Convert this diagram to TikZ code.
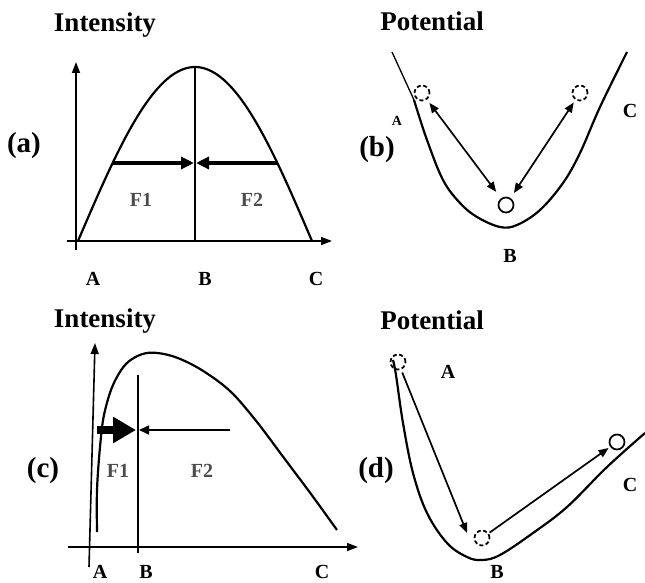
\documentclass[tikz,border=0pt]{standalone}
\usepackage{fontspec}
\setmainfont{Liberation Serif}
\usetikzlibrary{arrows.meta}
\begin{document}
\begin{tikzpicture}[x=1pt,y=-1pt,
  axis/.style={line width=1.6pt,-{Triangle[length=11pt,width=8pt]}},
  curve/.style={line width=2.2pt},
  title/.style={font=\bfseries\fontsize{27}{30}\selectfont,anchor=base,inner sep=0pt},
  plabel/.style={font=\bfseries\fontsize{29}{31}\selectfont,anchor=base,inner sep=0pt},
  lbl/.style={font=\bfseries\fontsize{20}{22}\selectfont,anchor=base,inner sep=0pt},
  flbl/.style={font=\bfseries\fontsize{20}{22}\selectfont,anchor=base,inner sep=0pt,text=black!70},
  ball/.style={circle,draw,line width=1.7pt,minimum size=15pt,inner sep=0pt},
  dball/.style={ball,dash pattern=on 4pt off 2.5pt},
  dbl/.style={line width=1.7pt,{Triangle[length=10pt,width=8pt]}-{Triangle[length=10pt,width=8pt]}},
  sgl/.style={line width=1.7pt,-{Triangle[length=10pt,width=8pt]}},
  thick arrow/.style={line width=4.5pt,-{Triangle[length=13pt,width=12pt]}}
]
\useasboundingbox (0,0) rectangle (645,583);

% ---------------- panel (a) ----------------
\node[title] (ta) at (105,32) {Intensity};
\node[plabel] (pa) at (24,153) {(a)};
\coordinate (aYtop) at (76,62);
\coordinate (aYbot) at (76,250);
\coordinate (aXl) at (67,241);
\coordinate (aXr) at (332,241);
\draw[axis] (aYbot) -- (aYtop);
\draw[axis] (aXl) -- (aXr);
\draw[curve] plot[domain=0:180,samples=80] ({78+1.3*\x},{241-174*sin(\x)});
\coordinate (aTop) at (195,67);
\coordinate (aBot) at (195,241);
\draw[line width=1.7pt] (aTop) -- (aBot);
\coordinate (aL) at (112.6,163);
\coordinate (aR) at (277.4,163);
\coordinate (aML) at (194,163);
\coordinate (aMR) at (196,163);
\draw[thick arrow] (aL) -- (aML);
\draw[thick arrow] (aR) -- (aMR);
\node[flbl] (aF1) at (141,206) {F1};
\node[flbl] (aF2) at (252,206) {F2};
\node[lbl] (aA) at (93,285) {A};
\node[lbl] (aB) at (205,285) {B};
\node[lbl] (aC) at (316,285) {C};

% ---------------- panel (b) ----------------
\node[title] (tb) at (432,31) {Potential};
\node[plabel] (pb) at (377,157) {(b)};
\draw[line width=1.3pt] (392,52) -- (414,100);
\draw[curve] plot[smooth,tension=0.6] coordinates {(414,100) (427,140) (443,180) (460,203) (477,217) (500,227) (517,225) (540,210) (563,183) (580,153) (600,107) (627,52)};
\node[dball] (bA) at (422,93) {};
\node[dball] (bC) at (580,93) {};
\node[ball] (bB) at (506,205) {};
\draw[dbl,shorten <=4pt,shorten >=8pt] (bA) -- (bB);
\draw[dbl,shorten <=6pt,shorten >=3pt] (bB) -- (bC);
\node[font=\bfseries\fontsize{14}{16}\selectfont,anchor=base,inner sep=0pt] (bAl) at (397,125) {A};
\node[lbl] (bCl) at (630,118) {C};
\node[lbl] (bBl) at (510,262) {B};

% ---------------- panel (c) ----------------
\node[title] (tc) at (105,327) {Intensity};
\node[plabel] (pc) at (43,477) {(c)};
\coordinate (cYbot) at (89,567);
\coordinate (cYtop) at (95,343);
\coordinate (cXl) at (68,547);
\coordinate (cXr) at (358,547);
\draw[axis] (cYbot) -- (cYtop);
\draw[axis] (cXl) -- (cXr);
\draw[curve] plot[smooth,tension=0.55] coordinates {(97,532) (97,490) (100,447) (104,415) (113,385) (127,363) (147,353) (172,356) (200,369) (230,391) (257,422) (284,458) (311,494) (337,530)};
\coordinate (cBtop) at (138,375);
\coordinate (cBbot) at (138,553);
\draw[line width=1.7pt] (cBtop) -- (cBbot);
\coordinate (cTs) at (97,430);
\coordinate (cTe) at (136,430);
\draw[line width=8pt,-{Triangle[length=23pt,width=25pt]}] (cTs) -- (cTe);
\coordinate (cNs) at (230,430);
\coordinate (cNe) at (139,430);
\draw[line width=1.6pt,-{Triangle[length=10pt,width=9pt]}] (cNs) -- (cNe);
\node[flbl] (cF1) at (118,477) {F1};
\node[flbl] (cF2) at (202,477) {F2};
\node[lbl] (cA) at (100,578) {A};
\node[lbl] (cB) at (146,578) {B};
\node[lbl] (cC) at (322,578) {C};

% ---------------- panel (d) ----------------
\node[title] (td) at (432,329) {Potential};
\node[plabel] (pd) at (376,477) {(d)};
\draw[curve] plot[smooth,tension=0.6] coordinates {(393,360) (396,375) (403,423) (413,473) (427,513) (447,543) (467,557) (482,560) (500,555) (533,533) (567,507) (607,467) (645,433)};
\node[dball] (dA) at (398,362) {};
\node[dball] (dB) at (482,538) {};
\node[ball] (dC) at (617,442) {};
\coordinate (dBin) at (467,533);
\draw[sgl,shorten <=3pt] (dA) -- (dBin);
\draw[sgl,shorten <=1pt,shorten >=2pt] (dB) -- (dC);
\node[lbl] (dAl) at (448,378) {A};
\node[lbl] (dCl) at (630,491) {C};
\node[lbl] (dBl) at (497,578) {B};
\end{tikzpicture}
\end{document}
